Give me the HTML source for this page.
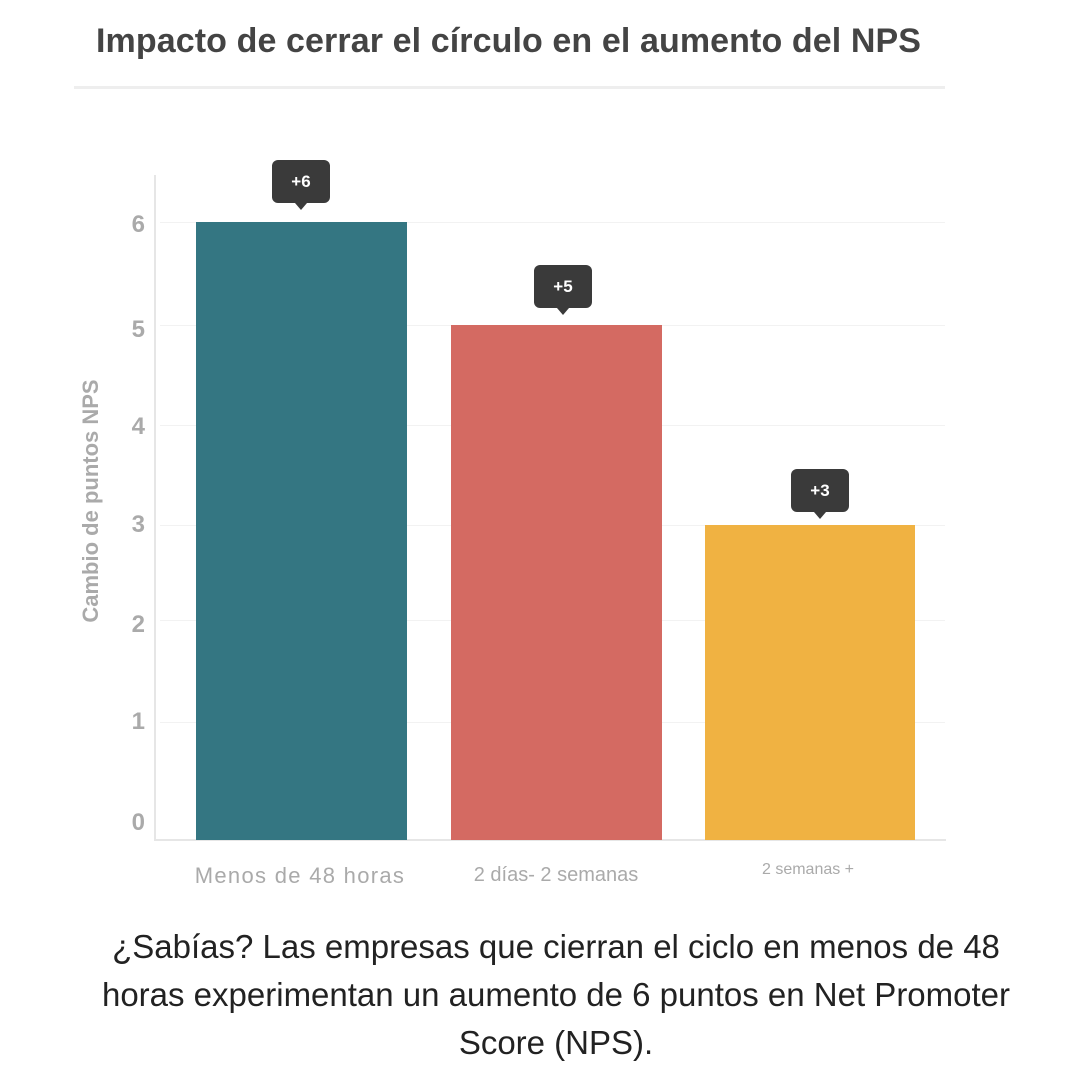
<!DOCTYPE html>
<html><head><meta charset="utf-8"><style>
body{margin:0;width:1080px;height:1080px;background:#fff;position:relative;font-family:"Liberation Sans",sans-serif;overflow:hidden}
.a{position:absolute}
.t{left:96px;top:22px;font-size:34px;font-weight:bold;color:#444;white-space:nowrap;letter-spacing:0.1px}
.g{height:1px;background:#f2f2f2;left:160px;width:785px}
.yl{font-size:24px;font-weight:bold;color:#aaa;width:32px;text-align:right;left:113px}
.tip{background:#3a3a3a;color:#fff;font-weight:bold;font-size:17px;border-radius:6px;width:58px;height:43px;line-height:43px;text-align:center}
.tip:after{content:"";position:absolute;left:23px;bottom:-7px;border-left:6px solid transparent;border-right:6px solid transparent;border-top:7px solid #3a3a3a;width:0;height:0}
.xl{color:#aaa;text-align:center;white-space:nowrap}
.cap{left:36px;width:1040px;top:923px;text-align:center;font-size:33px;line-height:48px;color:#222}
</style></head><body>
<div class="a t">Impacto de cerrar el círculo en el aumento del NPS</div>
<div class="a" style="left:74px;top:86px;width:871px;height:3px;background:#eee"></div>
<div class="a g" style="top:222px"></div>
<div class="a g" style="top:325px"></div>
<div class="a g" style="top:425px"></div>
<div class="a g" style="top:525px"></div>
<div class="a g" style="top:620px"></div>
<div class="a g" style="top:722px"></div>
<div class="a" style="left:154px;top:175px;width:2px;height:666px;background:#e6e6e6"></div>
<div class="a" style="left:154px;top:839px;width:792px;height:2px;background:#e6e6e6"></div>
<div class="a yl" style="top:211px">6</div>
<div class="a yl" style="top:316px">5</div>
<div class="a yl" style="top:413px">4</div>
<div class="a yl" style="top:511px">3</div>
<div class="a yl" style="top:611px">2</div>
<div class="a yl" style="top:708px">1</div>
<div class="a yl" style="top:809px">0</div>
<div class="a" style="left:-49px;top:488px;width:280px;transform:rotate(-90deg);text-align:center;font-size:22px;font-weight:bold;color:#aaa;white-space:nowrap">Cambio de puntos NPS</div>
<div class="a" style="left:196px;top:222px;width:211px;height:618px;background:#347682"></div>
<div class="a" style="left:451px;top:325px;width:211px;height:515px;background:#d46a62"></div>
<div class="a" style="left:705px;top:525px;width:210px;height:315px;background:#f0b242"></div>
<div class="a tip" style="left:272px;top:160px">+6</div>
<div class="a tip" style="left:534px;top:265px">+5</div>
<div class="a tip" style="left:791px;top:469px">+3</div>
<div class="a xl" style="left:170px;width:260px;top:863px;font-size:22px;letter-spacing:1.3px">Menos de 48 horas</div>
<div class="a xl" style="left:436px;width:240px;top:864px;font-size:20px">2 días- 2 semanas</div>
<div class="a xl" style="left:708px;width:200px;top:861px;font-size:16px">2 semanas +</div>
<div class="a cap">¿Sabías? Las empresas que cierran el ciclo en menos de 48<br>horas experimentan un aumento de 6 puntos en Net Promoter<br>Score (NPS).</div>
</body></html>
